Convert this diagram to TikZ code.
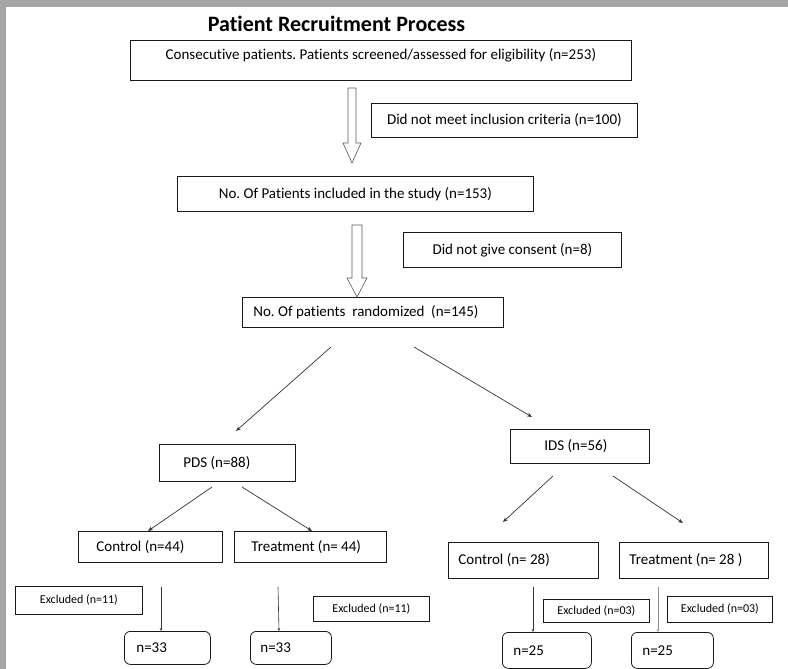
\documentclass[tikz,border=0pt]{standalone}
\usepackage{fontspec}
\setmainfont{Carlito}[Ligatures=NoCommon]
\usetikzlibrary{arrows.meta}
\definecolor{framegray}{HTML}{A6A6A6}
\frenchspacing

\begin{document}
\begin{tikzpicture}[x=1pt,y=-1pt,
  box/.style={draw=black!90, line width=0.8pt, inner sep=0pt, anchor=north west,
    font=\fontsize{15pt}{18pt}\selectfont},
  lbox/.style 2 args={box, text width=#1, align=flush left, execute at begin node={\hspace*{#2}}},
  exbox/.style={box, font=\fontsize{12pt}{14pt}\selectfont},
  nbox/.style={rounded corners=6pt},
  arr/.style={-{Stealth[length=5pt,width=4pt]}, draw=black!80, line width=0.7pt},
  varr/.style={-{Stealth[length=3pt,width=2.5pt]}, draw=black!80, line width=0.6pt},
  hollow/.style={draw=black!65, line width=0.6pt, fill=white}]
 \clip (0,0) rectangle (788,669);
 \useasboundingbox (0,0) rectangle (788,669);
 % page frame
 \fill[framegray] (0,0) rectangle (788,7);
 \fill[framegray] (0,0) rectangle (6,669);

 \node[font=\fontsize{22pt}{25pt}\selectfont\bfseries, anchor=base] (title) at (336.5,32) {Patient Recruitment Process};

 % screening
 \node[box, minimum width=501pt, minimum height=40pt, text depth=13pt] (cons) at (130,40)
   {Consecutive patients. Patients screened/assessed for eligibility (n=253)};
 \node[box, minimum width=266pt, minimum height=34pt] (noincl) at (371,103) {Did not meet inclusion criteria (n=100)};
 \node[box, minimum width=356pt, minimum height=35pt] (incl) at (177,176) {No. Of Patients included in the study (n=153)};
 \node[box, minimum width=218pt, minimum height=35pt] (nocons) at (403,232) {Did not give consent (n=8)};
 \node[lbox={261pt}{11pt}, minimum height=30pt] (rand) at (242,297) {No. Of patients\ \ randomized\ \ (n=145)};

 % groups
 \node[lbox={136pt}{24pt}, minimum height=37pt] (pds) at (159,444) {PDS (n=88)};
 \node[lbox={139pt}{34pt}, minimum height=34pt] (ids) at (510,429) {IDS (n=56)};
 \node[lbox={144pt}{18pt}, minimum height=31pt] (ctlP) at (78,531) {Control (n=44)};
 \node[lbox={152pt}{17pt}, minimum height=31pt] (trtP) at (234,531) {Treatment (n= 44)};
 \node[lbox={150pt}{10pt}, minimum height=36pt] (ctlI) at (448,542) {Control (n= 28)};
 \node[lbox={149pt}{10pt}, minimum height=36pt] (trtI) at (619,542) {Treatment (n= 28 )};

 % exclusions
 \node[exbox, minimum width=127pt, minimum height=28pt] (exP1) at (15,586) {Excluded (n=11)};
 \node[exbox, minimum width=116pt, minimum height=25pt] (exP2) at (313,596) {Excluded (n=11)};
 \node[exbox, minimum width=106pt, minimum height=23pt] (exI1) at (543,599) {Excluded (n=03)};
 \node[exbox, minimum width=105pt, minimum height=26pt] (exI2) at (667,596) {Excluded (n=03)};

 % final counts
 \node[lbox={86pt}{12pt}, nbox, minimum height=33pt] (finP1) at (124,631) {n=33};
 \node[lbox={81pt}{10pt}, nbox, minimum height=33pt] (finP2) at (250,631) {n=33};
 \node[lbox={89pt}{11pt}, nbox, minimum height=36pt] (finI1) at (502,632) {n=25};
 \node[lbox={82pt}{11pt}, nbox, minimum height=36pt] (finI2) at (631,632) {n=25};

 % hollow arrows
 \coordinate (h1) at (352,88);
 \coordinate (h2) at (357,225);
 \draw[hollow] (h1) ++(-4,0) -- ++(8,0) -- ++(0,55) -- ++(5,0) -- ++(-9,20) -- ++(-9,-20) -- ++(5,0) -- cycle;
 \draw[hollow] (h2) ++(-5,0) -- ++(10,0) -- ++(0,53) -- ++(5,0) -- ++(-10,19) -- ++(-10,-19) -- ++(5,0) -- cycle;

 % arrow ends
 \coordinate (rand-l) at (331,347);  \coordinate (pds-in) at (236,431);
 \coordinate (rand-r) at (414,347);  \coordinate (ids-in) at (532,417);
 \coordinate (pds-l) at (212,487);   \coordinate (ctlP-in) at (148,531);
 \coordinate (pds-r) at (242,487);   \coordinate (trtP-in) at (312,531);
 \coordinate (ids-l) at (553,476);   \coordinate (ctlI-in) at (503,522);
 \coordinate (ids-r) at (613,476);   \coordinate (trtI-in) at (683,523);
 \coordinate (ctlP-out) at (161,587);
 \coordinate (trtP-out) at (278,587);
 \coordinate (ctlI-out) at (533,587);
 \coordinate (trtI-out) at (658,587);

 \draw[arr] (rand-l) -- (pds-in);
 \draw[arr] (rand-r) -- (ids-in);
 \draw[arr] (pds-l) -- (ctlP-in);
 \draw[arr] (pds-r) -- (trtP-in);
 \draw[arr] (ids-l) -- (ctlI-in);
 \draw[arr] (ids-r) -- (trtI-in);
 \draw[varr] (ctlP-out) -- (ctlP-out |- finP1.north);
 \draw[varr] (trtP-out) -- ([xshift=1pt]trtP-out |- finP2.north);
 \draw[varr] (ctlI-out) -- (ctlI-out |- finI1.north);
 \draw[varr, draw=black!45] (trtI-out) -- (trtI-out |- finI2.north);
\end{tikzpicture}
\end{document}
